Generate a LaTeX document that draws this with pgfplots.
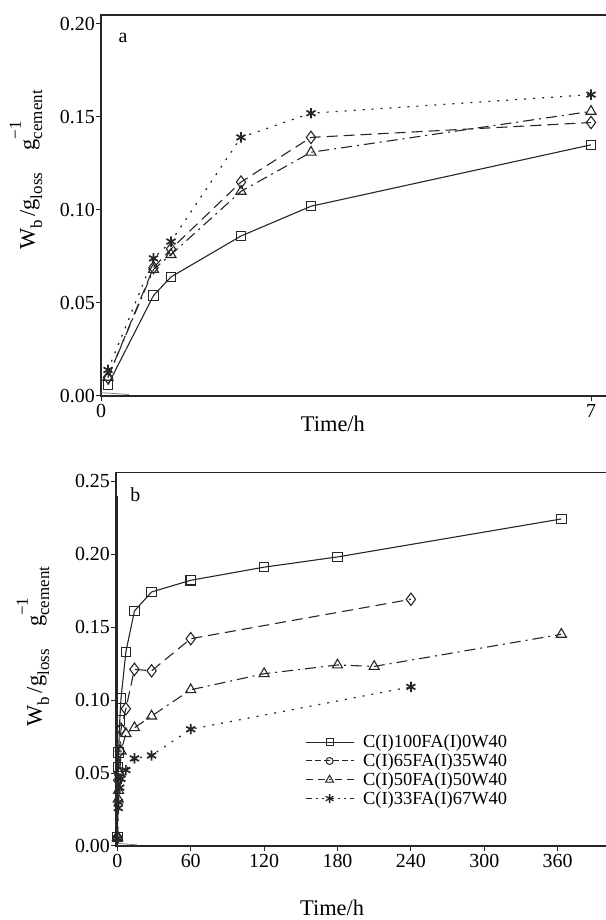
\documentclass[border=0pt]{standalone}
\usepackage{fontspec}
\setmainfont{Liberation Serif}
\usepackage{pgfplots}
\usepackage{pgfplotstable}
\pgfplotsset{compat=1.18}

% ---- panel a ----
\pgfplotstableread{
t v
0.1 0.006
0.75 0.054
1 0.064
2 0.086
3 0.102
7 0.135
}\aA
\pgfplotstableread{
t v
0.1 0.010
0.75 0.069
1 0.079
2 0.115
3 0.139
7 0.147
}\aB
\pgfplotstableread{
t v
0.1 0.010
0.75 0.068
1 0.076
2 0.110
3 0.131
7 0.153
}\aC
\pgfplotstableread{
t v
0.1 0.014
0.75 0.074
1 0.083
2 0.139
3 0.152
7 0.162
}\aD
% ---- panel b ----
\pgfplotstableread{
t v
0.1 0.006
0.75 0.054
1 0.064
2 0.086
3 0.101
7 0.133
14 0.161
28 0.174
60 0.182
120 0.191
180 0.198
363 0.224
}\bA
\pgfplotstableread{
t v
0.1 0.006
0.75 0.045
1 0.050
2 0.065
3 0.080
7 0.094
14 0.121
28 0.120
60 0.142
240 0.169
}\bB
\pgfplotstableread{
t v
0.1 0.006
0.75 0.032
1 0.038
2 0.050
3 0.065
7 0.077
14 0.081
28 0.089
60 0.107
120 0.118
180 0.124
210 0.123
363 0.145
}\bC
\pgfplotstableread{
t v
0.1 0.005
0.75 0.026
1 0.030
2 0.040
3 0.046
7 0.052
14 0.060
28 0.062
60 0.080
240 0.109
}\bD

\newcommand\mysub[1]{\raisebox{-0.32em}{\fontsize{17}{17}\selectfont #1}}
\newcommand\mysup[1]{\raisebox{0.62em}{\fontsize{17}{17}\selectfont #1}}
\newcommand\ylab{W\mysub{b}\,/g\mysub{loss}\quad g\rlap{\mysup{−1}}\mysub{cement}}

\pgfplotsset{
  myax/.style={
    scale only axis, anchor=south west, clip=false,
    axis line style={line width=1.4bp, black!85},
    tick style={line width=1bp, black!85},
    tick align=outside, major tick length=5bp,
    xtick pos=bottom, ytick pos=left,
    ticklabel style={font=\fontsize{20}{20}\selectfont},
    /pgf/number format/assume math mode=true,
    yticklabel style={/pgf/number format/fixed, /pgf/number format/fixed zerofill,
      /pgf/number format/precision=2, inner xsep=1bp},
    label style={font=\fontsize{22.5}{22.5}\selectfont},
  },
  sA/.style={black!85, line width=1.1bp, solid, mark=square, mark size=4.7bp,
    mark options={solid, line width=1.1bp, fill=white}},
  sB/.style={black!85, line width=1.1bp, dash pattern=on 11bp off 6bp, mark=diamond, mark size=6.2bp,
    mark options={solid, line width=1.1bp, fill=white}},
  sC/.style={black!85, line width=1.1bp, dash pattern=on 11bp off 5bp on 2bp off 5bp, mark=triangle, mark size=5.8bp,
    mark options={solid, line width=1.1bp, fill=white}},
  sD/.style={black!85, line width=1.2bp, dash pattern=on 2bp off 7bp, mark=asterisk, mark size=5.2bp,
    mark options={solid, line width=1.7bp}},
}

\begin{document}
\begin{tikzpicture}
\useasboundingbox (0,0) rectangle (606bp,920bp);
\clip (0,0) rectangle (606bp,920bp);

% ===== panel a =====
\begin{axis}[myax,
  at={(101bp,524bp)}, width=507.5bp, height=381bp,
  xmin=0, xmax=7.25, ymin=0, ymax=0.2048,
  xtick={0,7}, ytick={0,0.05,0.10,0.15,0.20},
  xlabel={Time/h},
  xlabel style={at={(axis description cs:0.457,-0.0919)}, anchor=base},
  ylabel={\ylab},
  ylabel style={at={(axis description cs:-0.1478,0.593)}, anchor=center},
]
\addplot[gray, line width=0.8bp] coordinates {(0,0.0018) (0.4,0.0008)};
\addplot[sA] table[x=t,y=v] {\aA};
\addplot[sB] table[x=t,y=v] {\aB};
\addplot[sC] table[x=t,y=v] {\aC};
\addplot[sD] table[x=t,y=v] {\aD};
\node[font=\fontsize{20}{20}\selectfont] at (axis description cs:0.0433,0.940) {a};
\end{axis}

% ===== panel b =====
\begin{axis}[myax,
  at={(116.1bp,74bp)}, width=495.4bp, height=373.3bp,
  xmin=-1, xmax=404, ymin=0, ymax=0.2557,
  xtick={0,60,120,180,240,300,360}, ytick={0,0.05,0.10,0.15,0.20,0.25},
  xlabel={Time/h},
  xlabel style={at={(axis description cs:0.436,-0.1875)}, anchor=base},
  ylabel={\ylab},
  ylabel style={at={(axis description cs:-0.1677,0.534)}, anchor=center},
  legend style={at={(axis description cs:0.381,0.303)}, anchor=north west,
    draw=none, fill=none, inner sep=0pt, row sep=0.5bp,
    font=\fontsize{18.5}{18.5}\selectfont,
    cells={anchor=west}},
  legend image code/.code={\draw[mark repeat=2, mark phase=2, #1]
     plot coordinates {(0bp,0bp) (24bp,0bp) (48bp,0bp)};
     \path (55bp,0bp);},
]
\addplot[forget plot, black!85, line width=0.8bp] coordinates {(0.4,0) (0.4,0.240)};
\addplot[forget plot, gray, line width=0.8bp] coordinates {(0,0.0018) (16,0.0008)};
\addplot[forget plot, sA] table[x=t,y=v] {\bA};
\addplot[forget plot, sB] table[x=t,y=v] {\bB};
\addplot[forget plot, sC] table[x=t,y=v] {\bC};
\addplot[forget plot, sD] table[x=t,y=v] {\bD};
\addlegendimage{sA, mark size=3.5bp}
\addlegendentry{C(I)100FA(I)0W40}
\addlegendimage{black!85, line width=1bp, dash pattern=on 6bp off 3bp, mark=o, mark size=3.5bp, mark options={solid, fill=white}}
\addlegendentry{C(I)65FA(I)35W40}
\addlegendimage{black!85, line width=1bp, dash pattern=on 7bp off 5bp on 7bp off 4bp on 2bp off 4bp, mark=triangle, mark size=4.5bp, mark options={solid, fill=white}}
\addlegendentry{C(I)50FA(I)50W40}
\addlegendimage{black!85, line width=1bp, dash pattern=on 6bp off 4bp on 2bp off 4bp on 2bp off 4bp, mark=asterisk, mark size=4.5bp, mark options={solid, line width=1.3bp}}
\addlegendentry{C(I)33FA(I)67W40}
\node[font=\fontsize{20}{20}\selectfont] at (axis description cs:0.0388,0.940) {b};
\end{axis}
\end{tikzpicture}
\end{document}
